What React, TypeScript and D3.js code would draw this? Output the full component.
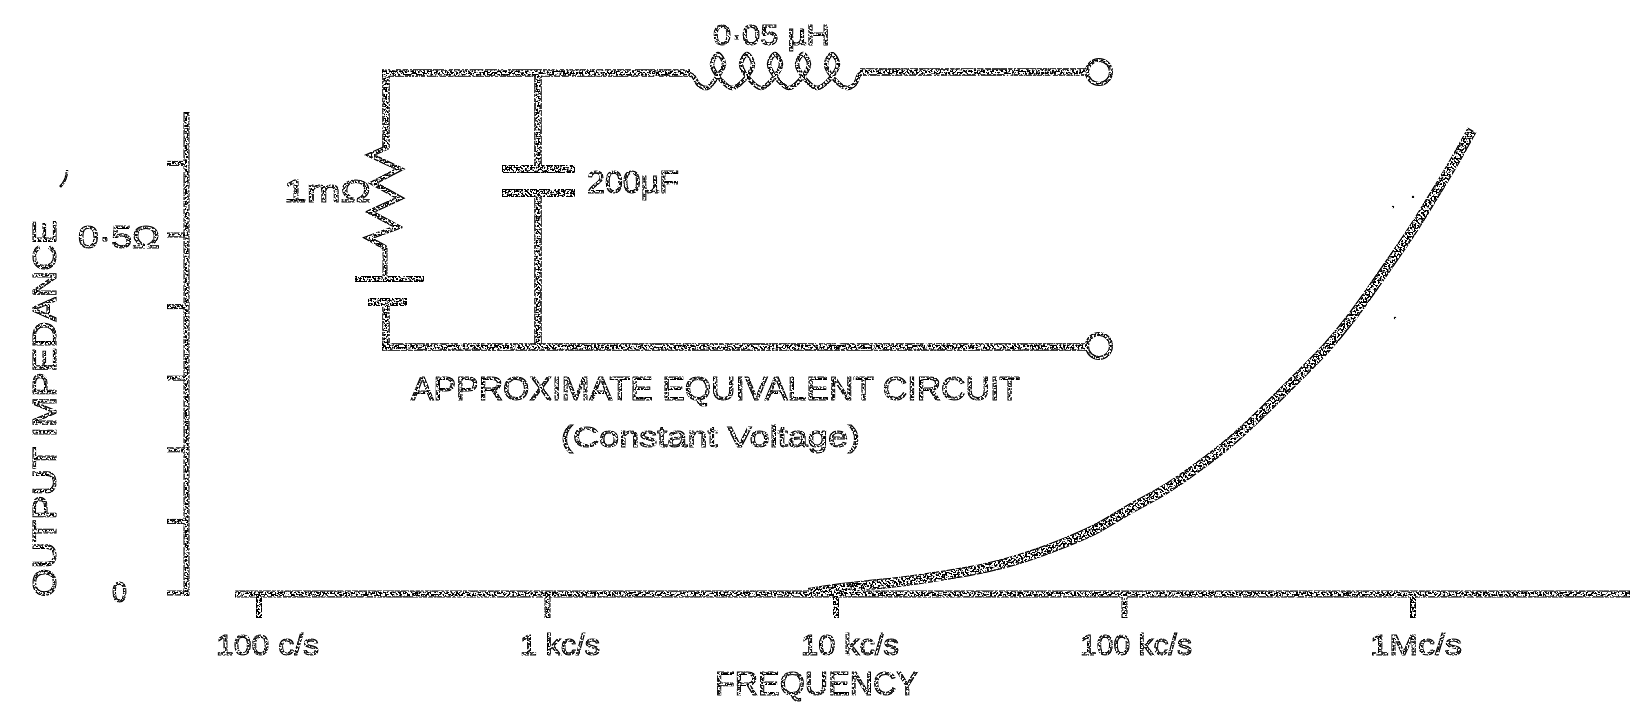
import React from "react";
import * as d3 from "d3";

// ---- data ----
const frequencyHz = [8000, 9770, 12800, 16670, 21700, 28450, 37000, 48200, 63200, 82200, 104500, 136000, 178300, 232200, 302000, 396300, 503500, 605000, 709500, 832000, 1000000, 1172000, 1343000, 1602000];
const impedanceOhm = [0, 0.0056, 0.011, 0.0154, 0.0223, 0.0293, 0.0391, 0.0531, 0.0712, 0.0908, 0.1187, 0.1411, 0.1746, 0.2095, 0.2528, 0.3003, 0.3422, 0.3813, 0.4204, 0.4609, 0.507, 0.5531, 0.5908, 0.6466];
const xTickValues = [100, 1000, 10000, 100000, 1000000];
const xTickLabels = ["100 c/s", "1 kc/s", "10 kc/s", "100 kc/s", "1Mc/s"];
const yTickValues = [0, 0.1, 0.2, 0.3, 0.4, 0.5, 0.6];

const x = d3.scaleLog().domain([100, 1000000]).range([259, 1413]);
const y = d3.scaleLinear().domain([0, 0.6]).range([593, 163.4]);

const curve = d3.line<number>()
  .x((_, i) => x(frequencyHz[i]))
  .y((d) => y(d))
  .curve(d3.curveBasis);

type P = [number, number];
const smooth = d3.line<P>().curve(d3.curveCatmullRom.alpha(0.5));
const straight = d3.line<P>();

const coilCentres = [718, 747, 775, 803, 832];
const coil: P[] = [[686, 73], [693, 76], [699, 85], [707, 88]];
coilCentres.forEach((c, i) => {
  coil.push([c - 3, 80], [c + 6, 64], [c, 54], [c - 6, 64], [c + 3, 80]);
  coil.push(i < 4 ? [c + 14, 88] : [c + 15, 88]);
});
coil.push([855, 84], [859, 75], [864, 72]);

const zigzag: P[] = [[388, 147], [370, 155], [400, 169], [373, 183], [400, 198], [370, 212], [398, 227], [368, 238], [386, 248]];

const ink = "#000";

function T({ x: tx, y: ty, w, size, children, rotate }: any) {
  return (
    <text
      x={tx}
      y={ty}
      fontSize={size}
      fontFamily="'Liberation Sans', Arial, sans-serif"
      fill={ink}
      stroke={ink}
      strokeWidth={1.1}
      textLength={w}
      lengthAdjust="spacingAndGlyphs"
      transform={rotate ? `rotate(-90 ${tx} ${ty})` : undefined}
    >
      {children}
    </text>
  );
}

const labelSpans: [number, number][] = [[216, 103], [520, 80], [801, 98], [1080, 112], [1370, 92]];

export default function App() {
  return (
    <svg
      width={1630}
      height={703}
      viewBox="0 0 1630 703"
      style={{ position: "absolute", left: 0, top: 0, display: "block", background: "#fff" }}
    >
      <defs>
        <filter id="dither" filterUnits="userSpaceOnUse" x={0} y={0} width={1630} height={703} colorInterpolationFilters="sRGB">
          <feTurbulence type="fractalNoise" baseFrequency="0.55" numOctaves={1} seed={7} result="n" />
          <feColorMatrix in="n" type="matrix" values="0 0 0 0 0  0 0 0 0 0  0 0 0 0 0  14 0 0 0 -6.6" result="coarse" />
          <feColorMatrix in="n" type="matrix" values="0 0 0 0 0  0 0 0 0 0  0 0 0 0 0  14 0 0 0 -5.2" result="fine" />
          <feMorphology in="SourceGraphic" operator="erode" radius={1.2} result="inner" />
          <feComposite in="SourceGraphic" in2="inner" operator="out" result="edge" />
          <feComposite in="edge" in2="fine" operator="in" result="edgeD" />
          <feComposite in="inner" in2="coarse" operator="in" result="innerD" />
          <feMerge result="d">
            <feMergeNode in="edgeD" />
            <feMergeNode in="innerD" />
          </feMerge>
          <feGaussianBlur in="d" stdDeviation="0.4" />
        </filter>
      </defs>
      <rect width={1630} height={703} fill="#fff" />
      <g filter="url(#dither)">
        {/* axes */}
        <g fill="none" stroke={ink} strokeWidth={5}>
          <line x1={186.5} x2={186.5} y1={112} y2={596} strokeWidth={6} />
          <line x1={235} x2={1630} y1={y(0) + 1} y2={y(0) + 1} strokeWidth={7} />
          {yTickValues.map((v) => (
            <line key={v} x1={167} x2={187} y1={y(v)} y2={y(v)} />
          ))}
          {xTickValues.map((v) => (
            <line key={v} x1={x(v)} x2={x(v)} y1={593} y2={618} strokeWidth={6} />
          ))}
        </g>
        {/* impedance curve */}
        <path d={curve(impedanceOhm) ?? ""} fill="none" stroke={ink} strokeWidth={10} />
        {/* equivalent circuit */}
        <g fill="none" stroke={ink} strokeWidth={7.5}>
          <path d={straight([[382, 73], [690, 73]]) ?? ""} />
          <path d={smooth(coil) ?? ""} strokeWidth={4.5} />
          <path d={straight([[860, 72], [1087, 72]]) ?? ""} />
          <circle cx={1099} cy={72} r={12} strokeWidth={4} />
          <path d={straight([[386, 70], [386, 148]]) ?? ""} />
          <path d={straight(zigzag) ?? ""} strokeWidth={5} />
          <path d={straight([[385, 248], [385, 276]]) ?? ""} strokeWidth={5} />
          <path d={straight([[355, 279], [424, 279]]) ?? ""} strokeWidth={6} />
          <path d={straight([[368, 302], [407, 302]]) ?? ""} strokeWidth={8} />
          <path d={straight([[386, 305], [386, 347]]) ?? ""} />
          <path d={straight([[382, 347], [1087, 347]]) ?? ""} />
          <circle cx={1099} cy={346} r={12} strokeWidth={4} />
          <path d={straight([[538, 73], [538, 168]]) ?? ""} />
          <path d={straight([[502, 169], [575, 169]]) ?? ""} strokeWidth={8} />
          <path d={straight([[502, 193], [575, 193]]) ?? ""} strokeWidth={8} />
          <path d={straight([[538, 193], [538, 347]]) ?? ""} />
        </g>
        {/* stray specks of the scan */}
        <g fill={ink}>
          <circle cx={1413} cy={197} r={1.2} />
          <circle cx={1393} cy={207} r={1.2} />
          <circle cx={1395} cy={318} r={1.2} />
        </g>
        <path d="M67 170 Q67 180 60 187" fill="none" stroke={ink} strokeWidth={2.5} />
        {/* text */}
        <T x={713} y={45} w={117} size={30}>0·05 µH</T>
        <T x={284} y={202} w={87} size={32}>1mΩ</T>
        <T x={587} y={193} w={92} size={32}>200µF</T>
        <T x={78} y={248} w={82} size={32}>0·5Ω</T>
        <T x={112} y={602} w={15} size={30}>0</T>
        <T x={56} y={597} w={377} size={33} rotate>OUTPUT  IMPEDANCE</T>
        <T x={411} y={400} w={609} size={33}>APPROXIMATE EQUIVALENT CIRCUIT</T>
        <T x={561} y={447} w={299} size={30}>(Constant Voltage)</T>
        {xTickLabels.map((t, i) => (
          <T key={t} x={labelSpans[i][0]} y={655} w={labelSpans[i][1]} size={30}>{t}</T>
        ))}
        <T x={715} y={695} w={203} size={33}>FREQUENCY</T>
      </g>
    </svg>
  );
}
